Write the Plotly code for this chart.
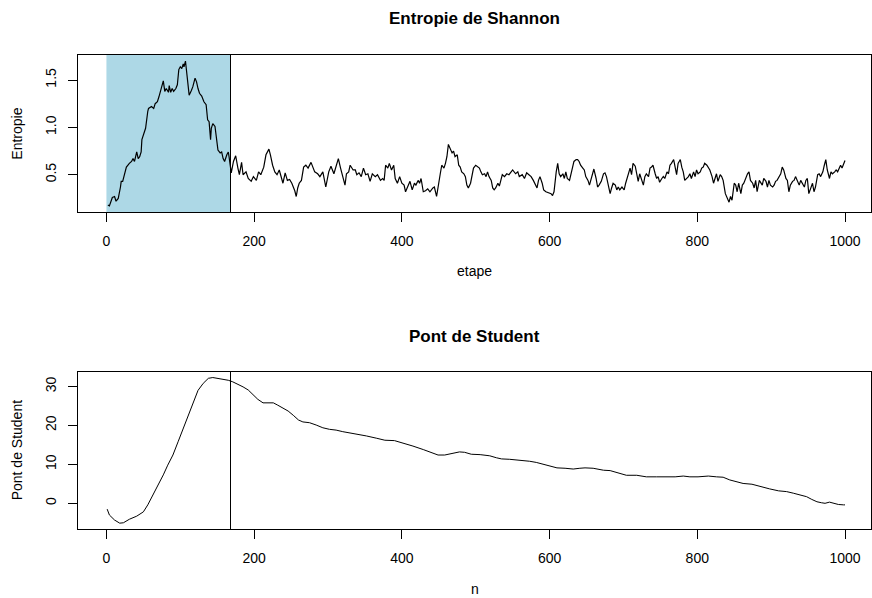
import plotly.graph_objects as go

# ---- Data ----
etape = [2, 4, 8, 11, 13, 16, 19, 20, 22, 25, 27, 31, 34, 36, 38, 41, 43, 45, 47, 48, 51, 53, 56, 57, 61, 64, 66, 69, 71, 75, 77, 79, 81, 84, 85, 87, 89, 91, 94, 96, 98, 100, 102, 104, 105, 107, 109, 112, 115, 117, 120, 122, 124, 126, 129, 132, 135, 137, 139, 141, 142, 144, 147, 149, 151, 154, 156, 158, 160, 163, 165, 166, 168,
         169, 172, 175, 178, 180, 183, 185, 189, 192, 196, 199, 203, 206, 209, 213, 216, 220, 222, 225, 228, 231, 234, 236, 239, 242, 245, 248, 251, 255, 257, 259, 261, 264, 267, 270, 273, 277, 279, 282, 286, 289, 293, 295, 297, 301, 304, 308, 311, 314, 317, 320, 323, 325, 328, 330, 334,
         337, 339, 342, 345, 348, 351, 354, 357, 360, 364, 367, 371, 374, 376, 378, 381, 383, 386, 389, 391, 394, 397, 400, 403, 405, 408, 411, 414, 417, 419, 422, 424, 426, 429, 432, 435, 438, 442, 444, 447, 449, 452, 454, 457, 459, 461, 463, 465, 468, 470, 472, 475, 477, 479, 481, 484, 486, 488, 490, 493, 495, 497, 500,
         503, 505, 507, 509, 512, 514, 516, 518, 521, 523, 525, 527, 530, 532, 534, 536, 539, 542, 545, 548, 550, 554, 557, 559, 563, 566, 569, 572, 575, 578, 581, 583, 585, 587, 590, 592, 595, 599, 602, 604, 606, 609, 611, 613, 615, 618, 620, 622, 624, 627, 629, 631, 633, 636, 638, 640, 642, 645, 647, 649, 652, 654, 656, 658, 660, 663, 665, 667,
         670, 673, 675, 677, 679, 682, 684, 686, 689, 691, 693, 695, 698, 701, 703, 707, 709, 711, 713, 716, 718, 720, 722, 725, 727, 729, 731, 734, 736, 738, 740, 743, 745, 747, 749, 752, 754, 756, 759, 761, 763, 765, 768, 770, 772, 774, 777, 779, 781, 783, 786, 788, 790, 792, 795, 797, 799, 801, 804, 806, 808, 810, 813, 815, 817, 820, 822, 824, 826, 828, 831, 833, 835,
         838, 841, 843, 845, 847, 850, 852, 854, 856, 859, 861, 863, 866, 868, 870, 872, 875, 877, 879, 881, 884, 886, 888, 890, 893, 895, 897, 899, 902, 904, 906, 908, 911, 913, 915, 917, 920, 922, 924, 926, 929, 931, 933, 936, 938, 940, 942, 945, 947, 949, 951, 954, 956, 958, 960, 963, 965, 967, 970, 972, 974, 976, 979, 981, 983, 986, 988, 990, 992, 994, 996, 999, 1000]
entropie = [0.18, 0.17, 0.26, 0.27, 0.22, 0.25, 0.37, 0.43, 0.43, 0.53, 0.58, 0.62, 0.64, 0.67, 0.64, 0.74, 0.67, 0.69, 0.74, 0.87, 0.95, 0.99, 1.17, 1.20, 1.22, 1.20, 1.25, 1.27, 1.32, 1.45, 1.49, 1.38, 1.41, 1.37, 1.44, 1.37, 1.41, 1.38, 1.41, 1.45, 1.61, 1.64, 1.62, 1.67, 1.64, 1.70, 1.55, 1.34, 1.39, 1.43, 1.52, 1.48, 1.41, 1.36, 1.33, 1.27, 1.24, 1.08, 1.06, 0.87, 0.99, 1.04, 1.01, 0.90, 0.76, 0.73, 0.74, 0.67, 0.64, 0.71, 0.74, 0.69, 0.53,
            0.52, 0.64, 0.70, 0.57, 0.50, 0.63, 0.50, 0.53, 0.46, 0.43, 0.48, 0.44, 0.53, 0.50, 0.58, 0.71, 0.77, 0.71, 0.60, 0.53, 0.50, 0.55, 0.48, 0.41, 0.52, 0.44, 0.45, 0.41, 0.33, 0.27, 0.36, 0.41, 0.44, 0.58, 0.60, 0.57, 0.63, 0.59, 0.53, 0.51, 0.48, 0.53, 0.44, 0.37, 0.53, 0.59, 0.51, 0.58, 0.67, 0.57, 0.48, 0.39, 0.51, 0.53, 0.60, 0.55,
            0.55, 0.50, 0.52, 0.48, 0.57, 0.50, 0.51, 0.43, 0.51, 0.48, 0.50, 0.44, 0.46, 0.44, 0.60, 0.57, 0.62, 0.55, 0.60, 0.46, 0.41, 0.48, 0.41, 0.39, 0.32, 0.37, 0.43, 0.34, 0.41, 0.39, 0.44, 0.41, 0.46, 0.32, 0.33, 0.35, 0.32, 0.36, 0.37, 0.27, 0.39, 0.51, 0.60, 0.57, 0.62, 0.69, 0.82, 0.78, 0.73, 0.75, 0.69, 0.71, 0.60, 0.58, 0.53, 0.51, 0.48, 0.39, 0.36, 0.41, 0.51, 0.57, 0.60,
            0.58, 0.57, 0.53, 0.50, 0.51, 0.48, 0.53, 0.48, 0.44, 0.36, 0.34, 0.36, 0.41, 0.38, 0.44, 0.50, 0.48, 0.51, 0.50, 0.53, 0.55, 0.51, 0.53, 0.48, 0.50, 0.46, 0.52, 0.50, 0.48, 0.44, 0.39, 0.36, 0.44, 0.48, 0.41, 0.34, 0.32, 0.31, 0.30, 0.28, 0.32, 0.53, 0.62, 0.51, 0.48, 0.51, 0.46, 0.53, 0.46, 0.44, 0.51, 0.58, 0.64, 0.66, 0.66, 0.64, 0.60, 0.57, 0.55, 0.48, 0.44, 0.39, 0.44, 0.51, 0.56, 0.46, 0.37, 0.39,
            0.43, 0.51, 0.52, 0.48, 0.39, 0.30, 0.36, 0.41, 0.39, 0.34, 0.37, 0.34, 0.37, 0.34, 0.41, 0.53, 0.57, 0.50, 0.62, 0.59, 0.51, 0.43, 0.51, 0.44, 0.39, 0.48, 0.51, 0.48, 0.57, 0.58, 0.60, 0.51, 0.46, 0.48, 0.42, 0.46, 0.48, 0.46, 0.53, 0.51, 0.60, 0.62, 0.66, 0.58, 0.50, 0.62, 0.66, 0.58, 0.53, 0.44, 0.46, 0.48, 0.51, 0.46, 0.53, 0.48, 0.55, 0.51, 0.53, 0.57, 0.58, 0.62, 0.60, 0.58, 0.55, 0.48, 0.41, 0.46, 0.51, 0.43, 0.50, 0.48, 0.44,
            0.30, 0.25, 0.21, 0.27, 0.23, 0.41, 0.39, 0.32, 0.41, 0.30, 0.39, 0.41, 0.48, 0.51, 0.53, 0.44, 0.41, 0.36, 0.44, 0.32, 0.44, 0.41, 0.39, 0.46, 0.43, 0.37, 0.44, 0.39, 0.37, 0.39, 0.43, 0.44, 0.48, 0.51, 0.58, 0.55, 0.46, 0.44, 0.32, 0.39, 0.43, 0.44, 0.48, 0.43, 0.39, 0.44, 0.41, 0.37, 0.44, 0.46, 0.30, 0.36, 0.41, 0.32, 0.37, 0.50, 0.51, 0.48, 0.53, 0.60, 0.66, 0.55, 0.46, 0.53, 0.51, 0.53, 0.55, 0.53, 0.57, 0.60, 0.57, 0.62, 0.65]

n_vals = [1, 4, 11, 18, 23, 31, 41, 50, 56, 63, 70, 77, 83, 90, 97, 104, 110, 117, 124, 131, 138, 144, 151, 158, 165, 171, 178, 185, 192, 199, 205, 212, 219, 226, 232, 240, 246, 253, 260, 266, 275, 284, 293, 302, 311, 320, 330, 338, 352, 366, 377, 390, 402, 415, 429, 440, 449, 458, 467, 478, 485, 494, 506, 519, 528, 535, 546, 560, 573, 582, 591, 600, 610, 621, 632, 641, 648, 659, 673, 682, 693, 704, 718, 731, 745, 758, 770, 781, 790, 801, 815, 826, 835, 844, 853, 862, 874, 885, 898, 910, 921, 930, 939, 948, 955, 962, 968, 973, 979, 984, 991, 998, 1000]
pont = [-1.5, -3.0, -4.3, -5.1, -5.0, -4.1, -3.3, -2.2, -0.4, 2.1, 4.7, 7.3, 9.8, 12.4, 15.8, 19.2, 22.2, 25.6, 29.0, 30.8, 32.1, 32.3, 32.1, 31.8, 31.6, 31.2, 30.6, 29.9, 29.1, 27.8, 26.7, 25.8, 25.8, 25.8, 25.2, 24.4, 23.7, 22.6, 21.4, 20.9, 20.7, 20.1, 19.4, 19.0, 18.8, 18.4, 18.1, 17.8, 17.3, 16.7, 16.2, 16.1, 15.5, 14.7, 13.8, 13.0, 12.4, 12.4, 12.8, 13.2, 13.1, 12.6, 12.5, 12.2, 11.7, 11.4, 11.3, 11.1, 10.8, 10.5, 10.0, 9.6, 9.1, 9.0, 8.8, 9.0, 9.1, 9.0, 8.5, 8.4, 7.7, 7.2, 7.2, 6.8, 6.8, 6.7, 6.8, 7.0, 6.8, 6.8, 7.0, 6.8, 6.7, 6.0, 5.5, 5.1, 4.9, 4.3, 3.7, 3.2, 3.0, 2.6, 2.1, 1.7, 1.0, 0.4, 0.15, 0.0, 0.3, 0.0, -0.3, -0.4, -0.4]

rupture = 168
x_ticks = [0, 200, 400, 600, 800, 1000]
y1_ticks = [0.5, 1.0, 1.5]
y1_labels = ["0.5", "1.0", "1.5"]
y2_ticks = [0, 10, 20, 30]

FONT = "Liberation Sans, Arial, Helvetica, sans-serif"
W, H = 872, 598
L, R = 78, 1

fig = go.Figure()
fig.add_trace(go.Scatter(x=etape, y=entropie, mode="lines",
                         line=dict(color="black", width=1.2),
                         xaxis="x", yaxis="y", showlegend=False))
fig.add_trace(go.Scatter(x=n_vals, y=pont, mode="lines",
                         line=dict(color="black", width=1),
                         xaxis="x2", yaxis="y2", showlegend=False))

# light blue zone + vertical line
fig.add_shape(type="rect", xref="x", yref="y domain", x0=0, x1=rupture, y0=0, y1=1,
              fillcolor="#ADD8E6", line=dict(width=0), layer="below")
fig.add_shape(type="line", xref="x", yref="y domain", x0=rupture, x1=rupture, y0=0, y1=1,
              line=dict(color="black", width=1))
fig.add_shape(type="line", xref="x2", yref="y2 domain", x0=rupture, x1=rupture, y0=0, y1=1,
              line=dict(color="black", width=1))

axis_common = dict(showline=True, mirror=True, linecolor="black", linewidth=1,
                   ticks="outside", ticklen=9, tickwidth=1, tickcolor="black",
                   showgrid=False, zeroline=False,
                   tickfont=dict(family=FONT, size=14, color="black"))

xr = [-38.5, 1035.2]
fig.update_layout(
    width=W, height=H,
    margin=dict(l=L, r=R, t=0, b=0),
    plot_bgcolor="white", paper_bgcolor="white",
    xaxis=dict(domain=[0, 1], range=xr, tickvals=x_ticks, anchor="y",
               ticklabelstandoff=7, **axis_common),
    yaxis=dict(domain=[1 - 212.3 / H, 1 - 55 / H], range=[0.103, 1.764],
               tickvals=y1_ticks, ticktext=y1_labels, tickangle=-90, anchor="x",
               ticklabelstandoff=6, **axis_common),
    xaxis2=dict(domain=[0, 1], range=xr, tickvals=x_ticks, anchor="y2",
                ticklabelstandoff=7, **axis_common),
    yaxis2=dict(domain=[1 - 529 / H, 1 - 371.7 / H], range=[-6.6, 33.8],
                tickvals=y2_ticks, tickangle=-90, anchor="x2",
                ticklabelstandoff=6, **axis_common),
)

pw = W - L - R
def px_x(p):
    return (p - L) / pw
def px_y(p):
    return 1 - p / H

ann = [
    dict(text="<b>Entropie de Shannon</b>", x=0.5, y=px_y(19), size=17, angle=0),
    dict(text="<b>Pont de Student</b>", x=0.5, y=px_y(336), size=17, angle=0),
    dict(text="etape", x=0.5, y=px_y(271), size=14, angle=0),
    dict(text="n", x=0.5, y=px_y(589), size=14, angle=0),
    dict(text="Entropie", x=px_x(17), y=px_y((55 + 212.3) / 2), size=14, angle=-90),
    dict(text="Pont de Student", x=px_x(17), y=px_y((371.7 + 529) / 2), size=14, angle=-90),
]
for a in ann:
    fig.add_annotation(text=a["text"], x=a["x"], y=a["y"], xref="paper", yref="paper",
                       xanchor="center", yanchor="middle", showarrow=False,
                       textangle=a["angle"],
                       font=dict(family=FONT, size=a["size"], color="black"))

fig.write_html("out.html", config={"displayModeBar": False},
               post_script="document.body.style.margin='0px';document.body.style.overflow='hidden';")
